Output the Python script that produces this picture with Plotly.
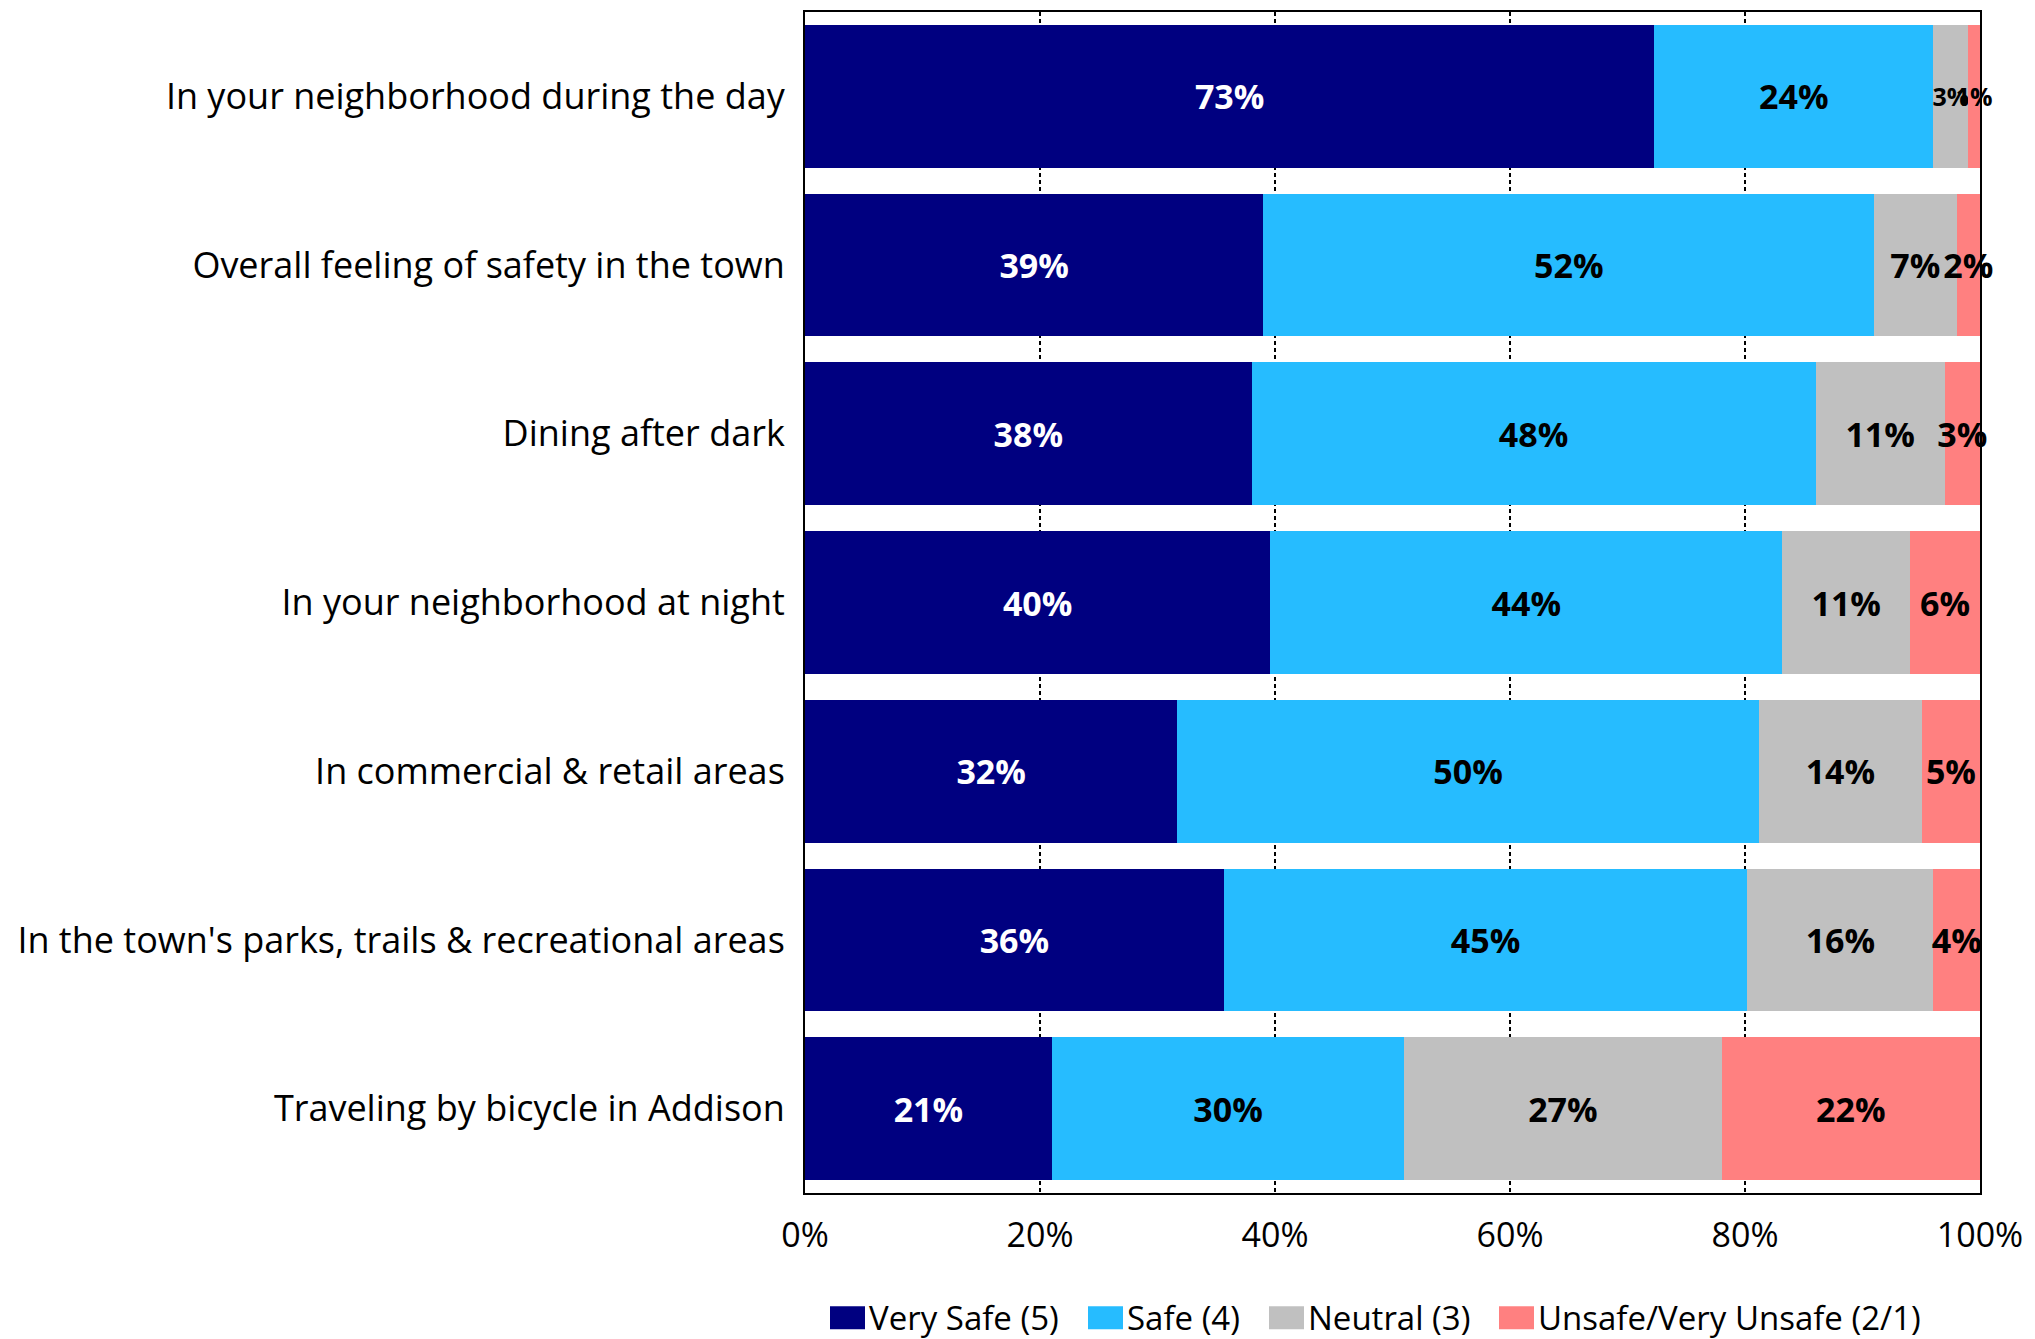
import plotly.graph_objects as go

# Survey items (top to bottom) and share of responses per rating
categories = [
    "In your neighborhood during the day",
    "Overall feeling of safety in the town",
    "Dining after dark",
    "In your neighborhood at night",
    "In commercial & retail areas",
    "In the town's parks, trails & recreational areas",
    "Traveling by bicycle in Addison",
]
very_safe = [73, 39, 38, 40, 32, 36, 21]
safe = [24, 52, 48, 44, 50, 45, 30]
neutral = [3, 7, 11, 11, 14, 16, 27]
unsafe = [1, 2, 3, 6, 5, 4, 22]

series_names = ["Very Safe (5)", "Safe (4)", "Neutral (3)", "Unsafe/Very Unsafe (2/1)"]
x_ticks = [0, 20, 40, 60, 80, 100]

colors = ["#000080", "#26BCFF", "#C0C0C0", "#FF8080"]
label_colors = ["white", "black", "black", "black"]
FONT = "Open Sans"
LABEL_SIZE = 34
SMALL_LABEL_SIZE = 25

W, H = 2035, 1339
M_L, M_R, M_T, M_B = 805, 55, 10, 146
PLOT_W = W - M_L - M_R
PLOT_H = H - M_T - M_B

fig = go.Figure()
for name, vals, col, tcol in zip(series_names, [very_safe, safe, neutral, unsafe], colors, label_colors):
    sizes = [SMALL_LABEL_SIZE if v < 2 or (vals is neutral and v < 5) else LABEL_SIZE for v in vals]
    fig.add_trace(go.Bar(
        y=categories,
        x=vals,
        name=name,
        orientation="h",
        marker=dict(color=col, line=dict(width=0)),
        text=[f"{v}%" for v in vals],
        textposition="inside",
        insidetextanchor="middle",
        textangle=0,
        constraintext="none",
        cliponaxis=False,
        textfont=dict(family=FONT, size=sizes, color=tcol, weight="bold"),
        hoverinfo="skip",
        showlegend=False,
    ))


# Legend drawn as wide swatches with labels below the plot
def px_to_paper_x(px):
    return (px - M_L) / PLOT_W


def px_to_paper_y(py):
    return (H - M_B - py) / PLOT_H


legend_left_px = [830, 1088, 1269, 1499]
SW_W, SW_H, LEG_CY = 35, 23, 1318
for name, col, left in zip(series_names, colors, legend_left_px):
    fig.add_shape(
        type="rect", xref="paper", yref="paper",
        x0=px_to_paper_x(left), x1=px_to_paper_x(left + SW_W),
        y0=px_to_paper_y(LEG_CY + SW_H / 2), y1=px_to_paper_y(LEG_CY - SW_H / 2),
        fillcolor=col, line=dict(width=0),
    )
    fig.add_annotation(
        xref="paper", yref="paper",
        x=px_to_paper_x(left + SW_W + 2), y=px_to_paper_y(LEG_CY),
        xanchor="left", yanchor="middle",
        text=name, showarrow=False,
        font=dict(family=FONT, size=33, color="black"),
    )

fig.update_layout(
    width=W,
    height=H,
    barmode="stack",
    barnorm="percent",
    bargap=0.154,
    plot_bgcolor="white",
    paper_bgcolor="white",
    margin=dict(l=M_L, r=M_R, t=M_T, b=M_B, pad=0),
    font=dict(family=FONT, color="black"),
    showlegend=False,
)

fig.update_xaxes(
    range=[0, 100],
    tickvals=x_ticks,
    ticktext=[f"{t}%" for t in x_ticks],
    tickfont=dict(family=FONT, size=34, color="black"),
    ticks="",
    ticklabelstandoff=11,
    showgrid=True,
    gridcolor="black",
    gridwidth=1.5,
    griddash="4px,3px",
    showline=True,
    linecolor="black",
    linewidth=2,
    mirror=True,
    zeroline=False,
    fixedrange=True,
)

fig.update_yaxes(
    autorange="reversed",
    tickfont=dict(family=FONT, size=36, color="black"),
    ticks="",
    ticklabelstandoff=11,
    showgrid=False,
    showline=True,
    linecolor="black",
    linewidth=2,
    mirror=True,
    fixedrange=True,
)

fig.write_html("out.html")
